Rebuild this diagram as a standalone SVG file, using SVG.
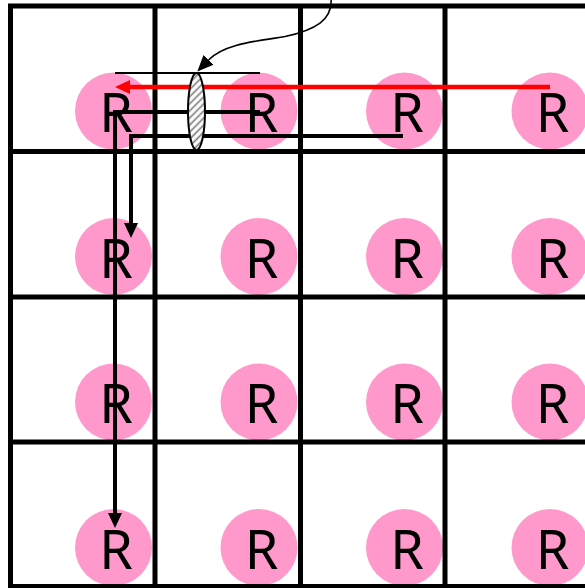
<svg xmlns="http://www.w3.org/2000/svg" width="585" height="588" viewBox="0 0 585 588">
<style>
.node circle{fill:#ff99cc}
.node text{font-family:"Noto Sans","Open Sans",sans-serif;font-size:54px;fill:#000;text-anchor:middle}
.grid line{stroke:#000;stroke-width:5}
.conn{fill:none;stroke:#000;stroke-width:4}
</style>
<defs>
<marker id="ab" markerUnits="userSpaceOnUse" viewBox="0 0 15 14" refX="0" refY="7" markerWidth="15" markerHeight="14" orient="auto"><path d="M0,0 L15,7 L0,14 z" fill="#000"/></marker>
<marker id="ar" markerUnits="userSpaceOnUse" viewBox="0 0 15 14" refX="0" refY="7" markerWidth="15" markerHeight="14" orient="auto"><path d="M0,0 L15,7 L0,14 z" fill="#ff0000"/></marker>
<marker id="at" markerUnits="userSpaceOnUse" viewBox="0 0 16 14" refX="0" refY="7" markerWidth="16" markerHeight="14" orient="auto"><path d="M0,0 L16,7 L0,14 z" fill="#000"/></marker>
<pattern id="hatch" patternUnits="userSpaceOnUse" width="5" height="5" patternTransform="rotate(-45)"><rect width="5" height="5" fill="#fff"/><line x1="0" y1="2.5" x2="5" y2="2.5" stroke="#777" stroke-width="1.6"/></pattern>
</defs>
<rect width="585" height="588" fill="#fff"/>
<g id="nodes">
<g id="n11" class="node"><circle cx="113.5" cy="111" r="38.5"/><text x="116" y="132">R</text></g>
<g id="n12" class="node"><circle cx="259" cy="111" r="38.5"/><text x="261.5" y="132">R</text></g>
<g id="n13" class="node"><circle cx="404.5" cy="111" r="38.5"/><text x="407" y="132">R</text></g>
<g id="n14" class="node"><circle cx="550" cy="111" r="38.5"/><text x="552.5" y="132">R</text></g>
<g id="n21" class="node"><circle cx="113.5" cy="256.5" r="38.5"/><text x="116" y="278">R</text></g>
<g id="n22" class="node"><circle cx="259" cy="256.5" r="38.5"/><text x="261.5" y="278">R</text></g>
<g id="n23" class="node"><circle cx="404.5" cy="256.5" r="38.5"/><text x="407" y="278">R</text></g>
<g id="n24" class="node"><circle cx="550" cy="256.5" r="38.5"/><text x="552.5" y="278">R</text></g>
<g id="n31" class="node"><circle cx="113.5" cy="402" r="38.5"/><text x="116" y="423">R</text></g>
<g id="n32" class="node"><circle cx="259" cy="402" r="38.5"/><text x="261.5" y="423">R</text></g>
<g id="n33" class="node"><circle cx="404.5" cy="402" r="38.5"/><text x="407" y="423">R</text></g>
<g id="n34" class="node"><circle cx="550" cy="402" r="38.5"/><text x="552.5" y="423">R</text></g>
<g id="n41" class="node"><circle cx="113.5" cy="547.5" r="38.5"/><text x="116" y="568.5">R</text></g>
<g id="n42" class="node"><circle cx="259" cy="547.5" r="38.5"/><text x="261.5" y="568.5">R</text></g>
<g id="n43" class="node"><circle cx="404.5" cy="547.5" r="38.5"/><text x="407" y="568.5">R</text></g>
<g id="n44" class="node"><circle cx="550" cy="547.5" r="38.5"/><text x="552.5" y="568.5">R</text></g>
</g>
<g id="grid" class="grid">
<line x1="10.5" y1="4" x2="10.5" y2="588"/>
<line x1="155" y1="4" x2="155" y2="588"/>
<line x1="300.5" y1="4" x2="300.5" y2="588"/>
<line x1="445" y1="4" x2="445" y2="588"/>
<line x1="8" y1="6" x2="585" y2="6"/>
<line x1="8" y1="151.5" x2="585" y2="151.5"/>
<line x1="8" y1="297" x2="585" y2="297"/>
<line x1="8" y1="442" x2="585" y2="442"/>
<line x1="8" y1="586.5" x2="585" y2="586.5"/>
</g>
<g id="connectors">
<line x1="115" y1="73" x2="260" y2="73" stroke="#000" stroke-width="2"/>
<path class="conn" d="M260 112 H115 V513" marker-end="url(#ab)"/>
<path class="conn" d="M403 136 H131 V223" marker-end="url(#ab)"/>
<path d="M550 87 H130" fill="none" stroke="#ff0000" stroke-width="4.5" marker-end="url(#ar)"/>
<ellipse cx="196.5" cy="111.5" rx="8.5" ry="38.5" fill="url(#hatch)" stroke="#000" stroke-width="2"/>
<path d="M331 -2 C333 20 315 30 285 36.5 C260 41 225 43 208.5 60" fill="none" stroke="#000" stroke-width="1.6" marker-end="url(#at)"/>
</g>
</svg>
